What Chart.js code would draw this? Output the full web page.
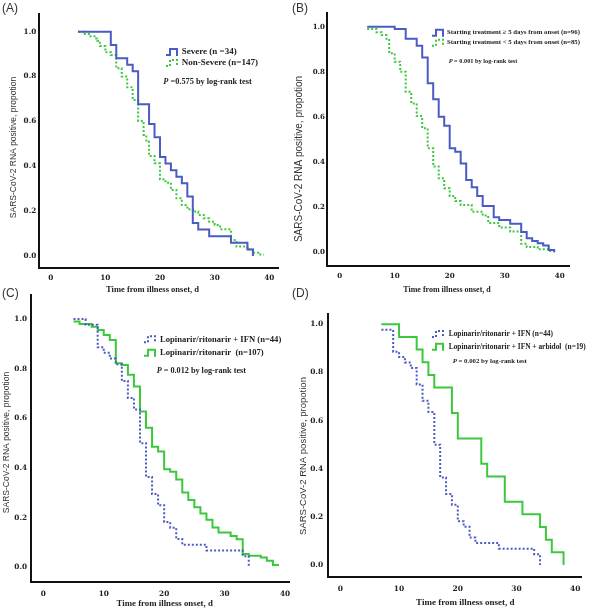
<!DOCTYPE html>
<html><head><meta charset="utf-8">
<script src="https://cdn.jsdelivr.net/npm/chart.js@4.4.1/dist/chart.umd.min.js"></script>
<style>
html,body{margin:0;padding:0;background:#fff;}
#wrap{position:relative;width:592px;height:614px;overflow:hidden;background:#fff;}
canvas{position:absolute;left:0;top:0;}
.plab{position:absolute;font-family:"Liberation Sans",Arial,sans-serif;font-size:12px;line-height:12px;color:#333;}
</style></head><body>
<div id="wrap">
<canvas id="cA" width="592" height="614"></canvas>
<canvas id="cB" width="592" height="614"></canvas>
<canvas id="cC" width="592" height="614"></canvas>
<canvas id="cD" width="592" height="614"></canvas>
<div class="plab" style="left:2px;top:2px">(A)</div>
<div class="plab" style="left:292px;top:2px">(B)</div>
<div class="plab" style="left:2px;top:287px">(C)</div>
<div class="plab" style="left:292px;top:287px">(D)</div>
</div>
<script>
// ---------- tick labels ----------
const xTickVals = [0, 10, 20, 30, 40];
const yTickVals = [0.0, 0.2, 0.4, 0.6, 0.8, 1.0];
const xTitle = "Time from illness onset, d";
const yTitle = "SARS-CoV-2 RNA positive, propotion";

// ---------- Panel A ----------
const aSevereDays = [5, 11, 12, 14, 15, 16, 18, 19, 20, 21, 22, 23, 24, 25, 26, 27, 29, 33, 36, 37];
const aSevereSurv = [1.0, 0.941, 0.882, 0.853, 0.824, 0.676, 0.588, 0.529, 0.441, 0.412, 0.382, 0.353, 0.324, 0.265, 0.147, 0.118, 0.088, 0.059, 0.029, 0.0];
const aNonSevDays = [5, 6, 7, 8, 8.5, 9, 10, 11, 12, 13, 14, 15, 16, 17, 17.5, 18, 19, 20, 21, 22, 23, 24, 25, 26, 27, 28, 29, 30, 31, 33, 34, 36, 37, 38, 39];
const aNonSevSurv = [1.0, 0.99, 0.98, 0.97, 0.96, 0.936, 0.908, 0.896, 0.837, 0.80, 0.752, 0.695, 0.602, 0.54, 0.509, 0.446, 0.413, 0.342, 0.327, 0.294, 0.257, 0.227, 0.208, 0.198, 0.183, 0.168, 0.153, 0.138, 0.119, 0.071, 0.042, 0.03, 0.015, 0.007, 0.007];
const aLabels = ["Severe (n =34)", "Non-Severe (n=147)"];
const aPText = " =0.575 by log-rank test";

// ---------- Panel B ----------
const bLateDays = [5, 10, 12, 14, 15, 16, 17, 18, 19, 20, 21, 22, 23, 24, 25, 26, 28, 29, 31, 33, 34, 35, 36, 37, 38, 39];
const bLateSurv = [1.0, 0.99, 0.947, 0.916, 0.864, 0.749, 0.678, 0.601, 0.561, 0.461, 0.446, 0.394, 0.321, 0.288, 0.25, 0.205, 0.155, 0.143, 0.126, 0.09, 0.062, 0.05, 0.04, 0.03, 0.01, 0.0];
const bEarlyDays = [5, 6.7, 7.6, 8.5, 9, 10, 11, 12, 13, 14, 15, 16, 17, 18, 19, 20, 21, 22, 24, 26, 27, 29, 31, 33, 34, 36, 38, 39];
const bEarlySurv = [0.99, 0.975, 0.963, 0.941, 0.882, 0.845, 0.80, 0.712, 0.66, 0.604, 0.55, 0.461, 0.38, 0.328, 0.284, 0.25, 0.227, 0.21, 0.18, 0.163, 0.13, 0.11, 0.092, 0.038, 0.024, 0.013, 0.006, 0.006];
const bLabels = ["Starting treatment \u2265 5 days from onset (n=96)", "Starting treatment < 5 days from onset (n=85)"];
const bPText = " = 0.001 by log-rank test";

// ---------- Panel C ----------
const cIfnDays = [5, 7, 9, 10, 11, 12, 13, 14, 15, 16, 17, 18, 19, 20, 21, 22, 23, 27, 33, 34];
const cIfnSurv = [1.0, 0.977, 0.886, 0.864, 0.841, 0.818, 0.75, 0.682, 0.636, 0.5, 0.364, 0.295, 0.25, 0.182, 0.159, 0.114, 0.091, 0.068, 0.045, 0.0];
const cLrDays = [5, 6, 8, 9, 10, 11, 12, 13, 14, 15, 16, 17, 18, 19, 20, 21, 22, 23, 24, 25, 26, 27, 28, 29, 31, 32, 33, 34, 36, 37, 38, 39];
const cLrSurv = [0.99, 0.98, 0.969, 0.956, 0.936, 0.915, 0.822, 0.815, 0.775, 0.728, 0.627, 0.562, 0.486, 0.466, 0.395, 0.385, 0.354, 0.301, 0.271, 0.242, 0.217, 0.191, 0.16, 0.14, 0.126, 0.113, 0.054, 0.047, 0.039, 0.026, 0.009, 0.009];
const cLabels = ["Lopinarir/ritonarir + IFN (n=44)", "Lopinarir/ritonarir  (n=107)"];
const cPText = " = 0.012 by log-rank test";

// ---------- Panel D ----------
const dIfnDays = [7, 9, 10, 11, 12, 13, 14, 15, 16, 17, 18, 19, 20, 21, 22, 23, 27, 33, 34];
const dIfnSurv = [0.977, 0.886, 0.864, 0.841, 0.818, 0.75, 0.682, 0.636, 0.5, 0.364, 0.295, 0.25, 0.182, 0.159, 0.114, 0.091, 0.068, 0.045, 0.0];
const dArbDays = [7, 10, 13, 14, 15, 16, 19, 20, 24, 25, 28, 31, 34, 35, 36, 38];
const dArbSurv = [1.0, 0.947, 0.895, 0.842, 0.789, 0.737, 0.632, 0.526, 0.421, 0.368, 0.263, 0.211, 0.158, 0.105, 0.053, 0.0];
const dLabels = ["Lopinarir/ritonarir + IFN (n=44)", "Lopinarir/ritonarir + IFN + arbidol  (n=19)"];
const dPText = " = 0.002 by log-rank test";

// ---------- styles ----------
const BLUE = "#4a5bc4";
const GREEN = "#3cc83c";
const SOLID = [];
const DOT = [2, 2];
const SERIF = '"Liberation Serif", "Times New Roman", serif';
const TICKF = '"DejaVu Serif", serif';
const SANS = '"Liberation Sans", Arial, sans-serif';

function drawSym(ctx, x, y, color, dash) {
  ctx.save();
  ctx.strokeStyle = color; ctx.lineWidth = 2; ctx.setLineDash(dash);
  ctx.beginPath();
  ctx.moveTo(x, y + 3); ctx.lineTo(x + 4, y + 3); ctx.lineTo(x + 4, y - 3);
  ctx.lineTo(x + 11, y - 3); ctx.lineTo(x + 11, y + 4);
  ctx.stroke();
  ctx.restore();
}

function notesPlugin(n) {
  return {
    id: 'notes',
    afterDraw(chart) {
      const ctx = chart.ctx;
      ctx.save();
      ctx.fillStyle = "#222";
      ctx.textBaseline = "middle";
      n.items.forEach((it, i) => {
        drawSym(ctx, n.symX, n.ys[i], it.color, it.dash);
        ctx.font = "bold " + n.lf + "px " + SERIF;
        ctx.textAlign = "left";
        ctx.fillText(it.label, n.textX, n.ys[i]);
      });
      ctx.font = "italic bold " + n.pf + "px " + SERIF;
      ctx.fillText("P", n.pX, n.pY);
      const w = ctx.measureText("P").width;
      ctx.font = "bold " + n.pf + "px " + SERIF;
      ctx.fillText(n.pText, n.pX + w, n.pY);
      ctx.textAlign = "center";
      ctx.font = "bold " + n.xtf + "px " + SERIF;
      ctx.fillText(xTitle, n.xtX, n.xtY);
      ctx.save();
      ctx.translate(n.ytX, n.ytY);
      ctx.rotate(-Math.PI / 2);
      ctx.font = n.ytf + "px " + SANS;
      ctx.fillStyle = "#333";
      ctx.fillText(yTitle, 0, 0);
      ctx.restore();
      ctx.restore();
    }
  };
}

function build(id, g, sets, notes) {
  const xMin = (g.L - g.x0) / (g.x40 - g.x0) * 40;
  const xMax = (g.R - g.x0) / (g.x40 - g.x0) * 40;
  const yMin = (g.y0 - g.B) / (g.y0 - g.y1);
  const yMax = (g.y0 - g.T) / (g.y0 - g.y1);
  new Chart(document.getElementById(id), {
    type: 'line',
    data: {
      datasets: sets.map(s => ({
        data: s.days.map((d, i) => ({ x: d, y: s.surv[i] })),
        borderColor: s.color, borderWidth: 2, borderDash: s.dash,
        stepped: true, pointRadius: 0, fill: false, tension: 0
      }))
    },
    options: {
      responsive: false, animation: false, events: [],
      layout: { padding: { left: g.L - 30, right: 592 - g.R, top: g.T, bottom: 614 - g.B - 30 } },
      plugins: { legend: { display: false }, tooltip: { enabled: false } },
      scales: {
        x: {
          type: 'linear', min: xMin, max: xMax,
          grid: { display: false, drawTicks: false, tickLength: 0 },
          border: { display: true, color: '#111', width: 2 },
          ticks: { font: { family: TICKF, weight: 'bold', size: g.tf }, color: '#222', padding: g.xp, maxRotation: 0, autoSkip: false },
          afterBuildTicks: s => { s.ticks = xTickVals.map(v => ({ value: v })); },
          afterFit: s => { s.height = 30; }
        },
        y: {
          type: 'linear', min: yMin, max: yMax,
          grid: { display: false, drawTicks: false, tickLength: 0 },
          border: { display: true, color: '#111', width: 2 },
          ticks: { font: { family: TICKF, weight: 'bold', size: g.tf }, color: '#222', padding: g.yp, autoSkip: false,
                   callback: v => Number(v).toFixed(1) },
          afterBuildTicks: s => { s.ticks = yTickVals.map(v => ({ value: v })); },
          afterFit: s => { s.width = 30; }
        }
      }
    },
    plugins: [notesPlugin(notes)]
  });
}

build('cA',
  { L: 39.3, R: 278, T: 14, B: 268, x0: 50.7, x40: 269.3, y0: 256, y1: 31.7, tf: 7.3, xp: 6, yp: 3 },
  [ { days: aSevereDays, surv: aSevereSurv, color: BLUE, dash: SOLID },
    { days: aNonSevDays, surv: aNonSevSurv, color: GREEN, dash: DOT } ],
  { items: [ { label: aLabels[0], color: BLUE, dash: SOLID }, { label: aLabels[1], color: GREEN, dash: DOT } ],
    symX: 166, textX: 181.7, ys: [52, 63], lf: 9, pX: 163.3, pY: 82, pf: 8.3, pText: aPText,
    xtX: 152.5, xtY: 290, xtf: 8.5, ytX: 14, ytY: 147.5, ytf: 8.5 });

build('cB',
  { L: 327, R: 569.7, T: 12.7, B: 265.7, x0: 339.7, x40: 559.7, y0: 252.3, y1: 26.7, tf: 7.1, xp: 6.5, yp: 2 },
  [ { days: bLateDays, surv: bLateSurv, color: BLUE, dash: SOLID },
    { days: bEarlyDays, surv: bEarlySurv, color: GREEN, dash: DOT } ],
  { items: [ { label: bLabels[0], color: BLUE, dash: SOLID }, { label: bLabels[1], color: GREEN, dash: DOT } ],
    symX: 432, textX: 447, ys: [32.7, 42.7], lf: 6.8, pX: 448.7, pY: 61.7, pf: 6.3, pText: bPText,
    xtX: 447, xtY: 290, xtf: 8, ytX: 299, ytY: 159, ytf: 10 });

build('cC',
  { L: 31, R: 289, T: 295, B: 581.7, x0: 43.3, x40: 285, y0: 567.3, y1: 319, tf: 7.3, xp: 7.8, yp: 4 },
  [ { days: cIfnDays, surv: cIfnSurv, color: BLUE, dash: DOT },
    { days: cLrDays, surv: cLrSurv, color: GREEN, dash: SOLID } ],
  { items: [ { label: cLabels[0], color: BLUE, dash: DOT }, { label: cLabels[1], color: GREEN, dash: SOLID } ],
    symX: 144, textX: 160, ys: [339.3, 352.7], lf: 8.6, pX: 156.7, pY: 370.7, pf: 8.2, pText: cPText,
    xtX: 164.7, xtY: 604, xtf: 8.8, ytX: 7, ytY: 442.5, ytf: 8.5 });

build('cD',
  { L: 327.7, R: 581.3, T: 314, B: 577.3, x0: 340.3, x40: 575.3, y0: 565, y1: 324.3, tf: 7.5, xp: 7.5, yp: 4.5 },
  [ { days: dIfnDays, surv: dIfnSurv, color: BLUE, dash: DOT },
    { days: dArbDays, surv: dArbSurv, color: GREEN, dash: SOLID } ],
  { items: [ { label: dLabels[0], color: BLUE, dash: DOT }, { label: dLabels[1], color: GREEN, dash: SOLID } ],
    symX: 432, textX: 448.7, ys: [334, 346.7], lf: 7.4, pX: 452.7, pY: 361.7, pf: 6.8, pText: dPText,
    xtX: 465.3, xtY: 602.7, xtf: 9, ytX: 303.5, ytY: 456, ytf: 9.5 });
</script>
</body></html>
